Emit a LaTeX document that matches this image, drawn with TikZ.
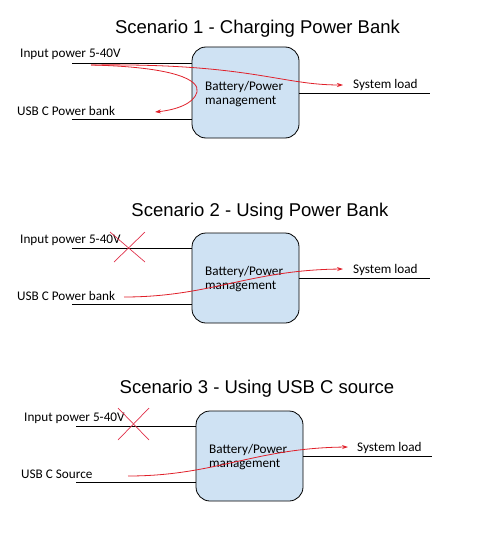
\documentclass[tikz,border=0pt]{standalone}
\usepackage{fontspec}
\setmainfont{Carlito}
\newfontfamily\titlefont{Liberation Sans}
\usetikzlibrary{arrows.meta,calc}
\definecolor{boxblue}{HTML}{CFE2F3}
\definecolor{flowred}{HTML}{E0202A}
\definecolor{crossred}{HTML}{E0304A}
\tikzset{
  pmbox/.style={draw=black, line width=0.8pt, fill=boxblue, rounded corners=14pt,
    minimum width=107pt, minimum height=90pt, inner sep=0pt},
  boxtext/.style={align=left, font=\fontsize{13.2}{14.5}\selectfont, inner sep=0pt, anchor=west},
  lbl/.style={font=\fontsize{13.2}{14}\selectfont, inner sep=0pt, anchor=west},
  ttl/.style={font=\titlefont\fontsize{18.5}{22}\selectfont, inner sep=0pt},
  wire/.style={draw=black, line width=0.8pt},
  flow/.style={draw=flowred, line width=0.8pt, -{Stealth[length=6pt,width=4pt]}},
  cross/.style={draw=crossred, line width=0.7pt}
}
\begin{document}
\begin{tikzpicture}[x=1pt,y=-1pt]
\useasboundingbox (0,0) rectangle (483,535);
% ---------------- Scenario 1
\node[ttl] (t1) at (257.5,29) {Scenario 1 - Charging Power Bank};
\node[pmbox] (b1) at (245.5,92.5) [minimum height=91pt] {};
\node[boxtext] (bt1) at (205,94) {Battery/Power\\management};
\coordinate (i1a) at (72,63);  \coordinate (i1b) at (192,63);
\coordinate (u1a) at (72,119); \coordinate (u1b) at (192,119);
\coordinate (s1a) at (299,93); \coordinate (s1b) at (430,93);
\draw[wire] (i1a) -- (i1b);
\draw[wire] (u1a) -- (u1b);
\draw[wire] (s1a) -- (s1b);
\node[lbl] (li1) at (20,54) {Input power 5-40V};
\node[lbl] (lu1) at (17,111) {USB C Power bank};
\node[lbl] (ls1) at (353,85) {System load};
\coordinate (f1s) at (91,65);
\coordinate (f1e) at (343,85);
\coordinate (f1b) at (155,112);
\draw[flow] (f1s) .. controls (250,63) and (280,85) .. (f1e);
\draw[flow] (f1s) .. controls (175,67) and (200,80) .. (197,92) .. controls (194,104) and (175,110) .. (f1b);
% ---------------- Scenario 2
\node[ttl] (t2) at (260,212) {Scenario 2 - Using Power Bank};
\node[pmbox] (b2) at (245.5,278) {};
\node[boxtext] (bt2) at (205,279) {Battery/Power\\management};
\coordinate (i2a) at (72,248);  \coordinate (i2b) at (192,248);
\coordinate (u2a) at (72,304);  \coordinate (u2b) at (192,304);
\coordinate (s2a) at (299,278); \coordinate (s2b) at (430,278);
\draw[wire] (i2a) -- (i2b);
\draw[wire] (u2a) -- (u2b);
\draw[wire] (s2a) -- (s2b);
\node[lbl] (li2) at (20,240) {Input power 5-40V};
\node[lbl] (lu2) at (17,296) {USB C Power bank};
\node[lbl] (ls2) at (353,270) {System load};
\coordinate (x2) at (128,247);
\draw[cross] ($(x2)+(-18,-15)$) -- ($(x2)+(17,15)$);
\draw[cross] ($(x2)+(17,-15)$) -- ($(x2)+(-14,15)$);
\coordinate (f2s) at (124,297);
\coordinate (f2e) at (343,269);
\draw[flow] (f2s) .. controls (210,297) and (250,270) .. (f2e);
% ---------------- Scenario 3
\node[ttl] (t3) at (257,389) {Scenario 3 - Using USB C source};
\node[pmbox] (b3) at (249.5,456) {};
\node[boxtext] (bt3) at (209,457) {Battery/Power\\management};
\coordinate (i3a) at (76,426);  \coordinate (i3b) at (196,426);
\coordinate (u3a) at (76,482);  \coordinate (u3b) at (196,482);
\coordinate (s3a) at (303,456); \coordinate (s3b) at (432,456);
\draw[wire] (i3a) -- (i3b);
\draw[wire] (u3a) -- (u3b);
\draw[wire] (s3a) -- (s3b);
\node[lbl] (li3) at (24,418) {Input power 5-40V};
\node[lbl] (lu3) at (21,474) {USB C Source};
\node[lbl] (ls3) at (357,448) {System load};
\coordinate (x3) at (133,424);
\draw[cross] ($(x3)+(-15,-16)$) -- ($(x3)+(16,16)$);
\draw[cross] ($(x3)+(16,-16)$) -- ($(x3)+(-15,16)$);
\coordinate (f3s) at (128,476);
\coordinate (f3e) at (348,447);
\draw[flow] (f3s) .. controls (215,476) and (255,448) .. (f3e);
\end{tikzpicture}
\end{document}
